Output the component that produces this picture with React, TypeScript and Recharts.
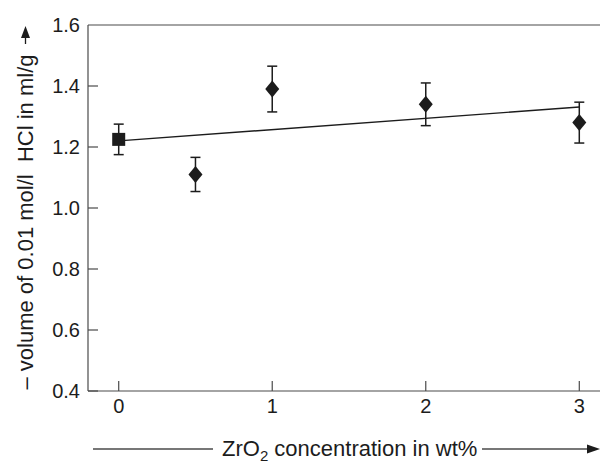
import { ComposedChart, Scatter, ErrorBar, XAxis, YAxis, ReferenceLine } from "recharts";

// x values in wt% ZrO2, y in ml/g, err = half-length of error bar
const refPoint = [{ x: 0, y: 1.225, err: 0.05 }];
const samples = [
  { x: 0.5, y: 1.11, err: 0.056 },
  { x: 1, y: 1.39, err: 0.075 },
  { x: 2, y: 1.34, err: 0.07 },
  { x: 3, y: 1.28, err: 0.067 },
];
const fitLine = [
  { x: 0, y: 1.22 },
  { x: 3, y: 1.331 },
];
const xTicks = [0, 1, 2, 3];
const yTicks = [0.4, 0.6, 0.8, 1.0, 1.2, 1.4, 1.6];

const INK = "#1c1c1c";
const AXIS = "#4a4a4a";
const FONT = "'Liberation Sans', Arial, Helvetica, sans-serif";
const X_GAP = 7; // axis line -> label top
const Y_GAP = 8; // axis line -> label right edge
const TICK_LEN = 10;

const SquareMark = (props: any) => {
  const { cx, cy } = props;
  if (cx == null || cy == null) return <g />;
  return <rect x={cx - 6.5} y={cy - 6.5} width={13} height={13} fill={INK} />;
};

const DiamondMark = (props: any) => {
  const { cx, cy } = props;
  if (cx == null || cy == null) return <g />;
  return <polygon points={`${cx},${cy - 8.5} ${cx + 7},${cy} ${cx},${cy + 8.5} ${cx - 7},${cy}`} fill={INK} />;
};

const NoMark = () => <g />;

// tick label plus an inward-pointing tick mark
const XTick = ({ x, y, payload }: any) => (
  <g>
    <line x1={x} y1={y - X_GAP} x2={x} y2={y - X_GAP - TICK_LEN} stroke={AXIS} strokeWidth={1.2} />
    <text x={x} y={y} dy={15} textAnchor="middle" fontSize={20} fontFamily={FONT} fill={INK}>
      {payload.value}
    </text>
  </g>
);

const YTick = ({ x, y, payload }: any) => (
  <g>
    {payload.value < 1.59 && (
      <line x1={x + Y_GAP} y1={y} x2={x + Y_GAP + TICK_LEN} y2={y} stroke={AXIS} strokeWidth={1.2} />
    )}
    <text x={x} y={y} dy={7} textAnchor="end" fontSize={20} fontFamily={FONT} fill={INK}>
      {Number(payload.value).toFixed(1)}
    </text>
  </g>
);

export default function App() {
  return (
    <div style={{ position: "absolute", left: 0, top: 0, width: 600, height: 463, overflow: "hidden", background: "#fff" }}>
      <ComposedChart width={640} height={463} margin={{ top: 25, right: 30, bottom: 42, left: 0 }}>
        <XAxis
          dataKey="x"
          type="number"
          domain={[-0.2, 3.2]}
          ticks={xTicks}
          allowDataOverflow
          height={30}
          tickLine={false}
          tickSize={0}
          tickMargin={X_GAP}
          stroke={AXIS}
          strokeWidth={1.2}
          tick={<XTick />}
        />
        <YAxis
          dataKey="y"
          type="number"
          domain={[0.4, 1.6]}
          ticks={yTicks}
          allowDataOverflow
          width={88}
          tickLine={false}
          tickSize={0}
          tickMargin={Y_GAP}
          stroke={AXIS}
          strokeWidth={1.2}
          tick={<YTick />}
        />
        <ReferenceLine y={1.6} stroke={AXIS} strokeWidth={1.2} />
        <Scatter data={fitLine} line={{ stroke: INK, strokeWidth: 1.4 }} shape={NoMark} isAnimationActive={false} />
        <Scatter data={refPoint} shape={SquareMark} isAnimationActive={false}>
          <ErrorBar dataKey="err" direction="y" width={5} stroke={INK} strokeWidth={1.5} />
        </Scatter>
        <Scatter data={samples} shape={DiamondMark} isAnimationActive={false}>
          <ErrorBar dataKey="err" direction="y" width={5} stroke={INK} strokeWidth={1.5} />
        </Scatter>
      </ComposedChart>
      <svg width={600} height={463} style={{ position: "absolute", left: 0, top: 0, pointerEvents: "none" }}>
        <text
          x={33}
          y={222}
          transform="rotate(-90, 33, 222)"
          textAnchor="middle"
          fontSize={22}
          fontFamily={FONT}
          fill={INK}
          style={{ whiteSpace: "pre" }}
        >
          {"– volume of 0.01 mol/l  HCl in ml/g"}
        </text>
        <line x1={25.5} y1={44} x2={25.5} y2={36} stroke={INK} strokeWidth={1.3} />
        <polygon points="25.5,26 21,38 30,38" fill={INK} />

        <line x1={93} y1={449} x2={213} y2={449} stroke={AXIS} strokeWidth={1.3} />
        <text x={222} y={456} fontSize={22} fontFamily={FONT} fill={INK}>
          ZrO
          <tspan dy={5} fontSize={15}>2</tspan>
          <tspan dy={-5}> concentration in wt%</tspan>
        </text>
        <line x1={482} y1={449} x2={590} y2={449} stroke={AXIS} strokeWidth={1.3} />
        <polygon points="600,449 587,444.5 587,453.5" fill={INK} />
      </svg>
    </div>
  );
}
